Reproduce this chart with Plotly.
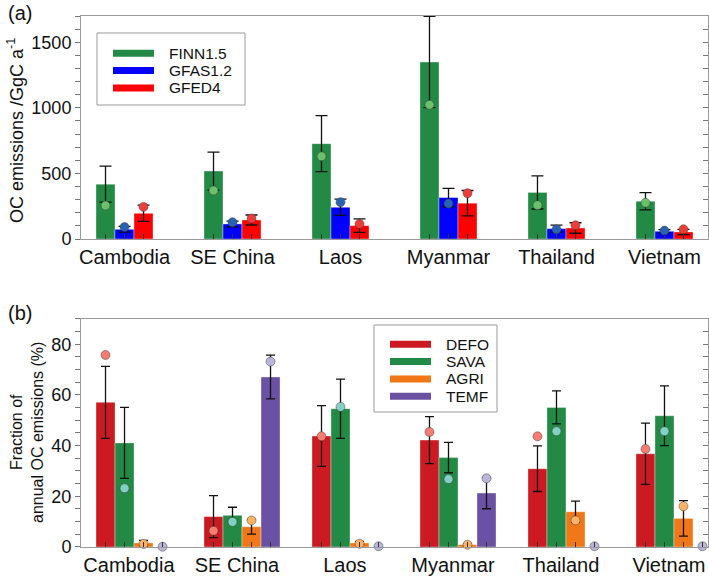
import plotly.graph_objects as go

countries = ["Cambodia", "SE China", "Laos", "Myanmar", "Thailand", "Vietnam"]

# Panel (a): OC emissions (GgC a^-1)
finn = [418, 518, 727, 1349, 355, 288]
finn_err = [137, 145, 213, 348, 126, 66]
finn_pt = [255, 370, 630, 1023, 258, 276]
gfas = [74, 115, 242, 316, 79, 59]
gfas_err = [22, 22, 62, 70, 27, 12]
gfas_pt = [92, 128, 281, 270, 74, 64]
gfed = [196, 145, 102, 273, 84, 54]
gfed_err = [62, 38, 52, 97, 40, 20]
gfed_pt = [245, 156, 115, 349, 105, 74]

# Panel (b): fraction of annual OC emissions (%)
defo = [57.1, 12.0, 43.8, 42.2, 30.9, 36.8]
defo_err = [14.2, 8.3, 12.0, 9.3, 9.0, 12.1]
defo_pt = [75.8, 6.4, 43.7, 45.4, 43.7, 38.7]
sava = [41.1, 12.5, 54.6, 35.3, 55.1, 51.8]
sava_err = [14.0, 3.2, 11.7, 6.0, 6.5, 11.8]
sava_pt = [23.2, 9.9, 55.3, 26.8, 45.7, 45.7]
agri = [1.6, 8.0, 1.6, 0.9, 13.9, 11.3]
agri_err = [1.0, 2.9, 0.6, 0.4, 4.2, 7.0]
agri_pt = [1.2, 10.5, 1.3, 0.9, 10.5, 16.1]
temf = [0, 67.1, 0, 21.3, 0, 0]
temf_err = [0, 8.6, 0, 6.2, 0, 0]
temf_pt = [0.1, 73.2, 0.3, 27.1, 0.3, 0.3]

top_series = [
    ("FINN1.5", finn, finn_err, finn_pt, "#228a45", "#6cc06a"),
    ("GFAS1.2", gfas, gfas_err, gfas_pt, "#0000ff", "#2a62b2"),
    ("GFED4", gfed, gfed_err, gfed_pt, "#ff0000", "#ec3d3a"),
]
bot_series = [
    ("DEFO", defo, defo_err, defo_pt, "#cc1a22", "#f77d72"),
    ("SAVA", sava, sava_err, sava_pt, "#228a45", "#84d0c6"),
    ("AGRI", agri, agri_err, agri_pt, "#f07818", "#fdb266"),
    ("TEMF", temf, temf_err, temf_pt, "#6a51a3", "#bab6da"),
]

W, H = 709, 580
ML, MR, MT, MB = 81, 1, 16, 33
PW, PH = W - ML - MR, H - MT - MB

BW = 0.176
OFF0 = -0.352
xs = list(range(len(countries)))
FONT = "Liberation Sans, Arial, sans-serif"

fig = go.Figure()


def add_panel(series, xa, ya, capw):
    for k, (name, vals, err, pts, col, pcol) in enumerate(series):
        off = OFF0 + k * BW
        fig.add_trace(go.Bar(
            x=xs, y=vals, width=BW, offset=off, xaxis=xa, yaxis=ya,
            marker=dict(color=col, line=dict(color="rgba(255,255,255,0.35)", width=1)),
            error_y=dict(type="data", array=err, color="#111", thickness=1.3, width=capw),
            showlegend=False, name=name,
        ))
    for k, (name, vals, err, pts, col, pcol) in enumerate(series):
        off = OFF0 + k * BW
        fig.add_trace(go.Scatter(
            x=[x + off + BW / 2 for x in xs], y=pts, mode="markers", xaxis=xa, yaxis=ya,
            marker=dict(size=9, color=pcol, line=dict(color="rgba(60,60,60,0.6)", width=0.8)),
            cliponaxis=False, showlegend=False, name=name + " (points)",
        ))


add_panel(top_series, "x", "y", 6)
add_panel(bot_series, "x2", "y2", 4.5)

XR = [-0.491, 5.315]
line_col = "#9a9a9a"
tick_col = "#777"

top_centers = [x + OFF0 + k * BW + BW / 2 for x in xs for k in range(3)]
bot_centers = [x + OFF0 + k * BW + BW / 2 for x in xs for k in range(4)]

xcommon = dict(range=XR, showline=True, mirror=True, linecolor=line_col, linewidth=1,
               showgrid=False, zeroline=False, ticks="", tickfont=dict(size=20, color="#111"),
               tickmode="array", ticktext=countries, automargin=False, fixedrange=True)
ycommon = dict(showline=True, mirror=True, linecolor=line_col, linewidth=1, showgrid=False,
               zeroline=False, ticks="outside", ticklen=5, tickcolor=tick_col,
               tickfont=dict(size=18, color="#111"), automargin=False)
ovcommon = dict(side="right", ticks="inside", ticklen=5, tickcolor=tick_col, tickmode="linear",
                tick0=0, showticklabels=False, showgrid=False, zeroline=False, showline=False,
                automargin=False)

fig.update_layout(
    template="none",
    width=W, height=H,
    margin=dict(l=ML, r=MR, t=MT, b=MB, autoexpand=False),
    paper_bgcolor="white", plot_bgcolor="white",
    font=dict(family=FONT, color="#111"),
    barmode="overlay",
    showlegend=False,
    xaxis=dict(domain=[0, 1], anchor="y", tickvals=[x - 0.088 for x in xs],
               minor=dict(tickmode="array", tickvals=top_centers, ticks="inside",
                          ticklen=5, tickcolor="#333"), **xcommon),
    yaxis=dict(domain=[0.58, 1.0], anchor="x", range=[0, 1700], tickmode="linear", tick0=0,
               dtick=500, minor=dict(dtick=100, ticks="outside", ticklen=5, tickcolor=tick_col),
               **ycommon),
    yaxis3=dict(overlaying="y", anchor="x", range=[0, 1700], dtick=100, **ovcommon),
    xaxis2=dict(domain=[0, 1], anchor="y2", tickvals=[x - 0.047 for x in xs],
                minor=dict(tickmode="array", tickvals=bot_centers, ticks="inside",
                           ticklen=5, tickcolor="#333"), **xcommon),
    yaxis2=dict(domain=[0, 0.4294], anchor="x2", range=[0, 90], tickmode="linear", tick0=0,
                dtick=20, minor=dict(dtick=5, ticks="outside", ticklen=5, tickcolor=tick_col),
                **ycommon),
    yaxis4=dict(overlaying="y2", anchor="x2", range=[0, 90], dtick=5, **ovcommon),
)

# invisible traces to activate the right-side tick axes
fig.add_trace(go.Scatter(x=[None], y=[None], xaxis="x", yaxis="y3", showlegend=False))
fig.add_trace(go.Scatter(x=[None], y=[None], xaxis="x2", yaxis="y4", showlegend=False))


def px(xp):
    return (xp - ML) / PW


def py(yp):
    return (H - MB - yp) / PH


def draw_legend(series, box, sw_x0, sw_x1, text_x, row_y0, row_dy):
    x0, y0, x1, y1 = box
    fig.add_shape(type="rect", xref="paper", yref="paper", x0=px(x0), x1=px(x1),
                  y0=py(y1), y1=py(y0), line=dict(color="#9a9a9a", width=1),
                  fillcolor="white", layer="above")
    for i, s in enumerate(series):
        yy = row_y0 + i * row_dy
        fig.add_shape(type="line", xref="paper", yref="paper", x0=px(sw_x0), x1=px(sw_x1),
                      y0=py(yy), y1=py(yy), line=dict(color=s[4], width=7), layer="above")
        fig.add_annotation(text=s[0], xref="paper", yref="paper", x=px(text_x), y=py(yy),
                           xanchor="left", yanchor="middle", showarrow=False,
                           font=dict(size=15.5, color="#111"))


draw_legend(top_series, (97, 33, 245, 105), 113, 154, 167, 53.3, 17.3)
draw_legend(bot_series, (374, 325, 497, 412), 390, 431, 444, 344.3, 17.3)

fig.add_annotation(text="(a)", xref="paper", yref="paper", x=px(6), y=py(13), xanchor="left",
                   yanchor="middle", showarrow=False, font=dict(size=20))
fig.add_annotation(text="(b)", xref="paper", yref="paper", x=px(6), y=py(313), xanchor="left",
                   yanchor="middle", showarrow=False, font=dict(size=20))
fig.add_annotation(text="OC emissions /GgC a<sup>-1</sup>", xref="paper", yref="paper",
                   x=px(15), y=py(131), xanchor="center", yanchor="middle", textangle=-90,
                   showarrow=False, font=dict(size=18))
fig.add_annotation(text="Fraction of<br>annual OC emissions (%)", xref="paper", yref="paper",
                   x=px(27), y=py(433), xanchor="center", yanchor="middle", textangle=-90,
                   showarrow=False, font=dict(size=16))

# remove the browser's default 8px page margin so the figure fills the window exactly
fig.write_html("out.html", config={"displayModeBar": False},
               post_script="document.body.style.margin='0';")
